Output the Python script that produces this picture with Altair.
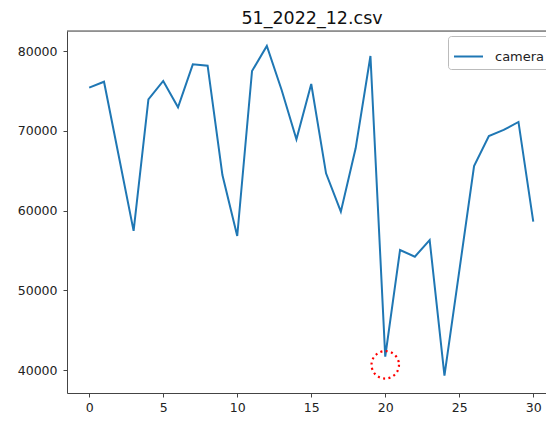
import altair as alt
import pandas as pd

# ---- data ----
days = list(range(31))
camera = [75400, 76150, 66800, 57450, 73940, 76240, 72940, 78330, 78160, 64450,
          56800, 77490, 80630, 75110, 68930, 75860, 64660, 59850, 67800, 79370,
          41670, 55050, 54210, 56300, 39290, 52400, 65580, 69340, 70100, 71100,
          58600]
series_name = ["camera"]
x_ticks = [0, 5, 10, 15, 20, 25, 30]
y_ticks = [40000, 50000, 60000, 70000, 80000]
mark_x = [20]
mark_y = [40650]
title_text = ["51_2022_12.csv"]

df = pd.DataFrame({"day": days, "value": camera, "series": series_name * len(days)})
ann = pd.DataFrame({"day": mark_x, "value": mark_y})
tdf = pd.DataFrame({"t": title_text})

W, H = 479, 362
FONT = "DejaVu Sans"

xscale = alt.Scale(domain=[-1.5, 30.86], nice=False, zero=False)
yscale = alt.Scale(domain=[37116, 82508], nice=False, zero=False)

xaxis = alt.Axis(values=x_ticks, title=None, grid=False, tickSize=4, labelPadding=4,
                 labelFontSize=12.5, labelFont=FONT, labelColor="#222",
                 domainColor="#444", tickColor="#444", labelFlush=False)
yaxis = alt.Axis(values=y_ticks, title=None, grid=False, tickSize=4, labelPadding=6,
                 labelFontSize=12.5, labelFont=FONT, labelColor="#222", format="d",
                 domainColor="#444", tickColor="#444")

shadow = alt.Chart(pd.DataFrame({"k": [0]})).mark_rect(color="#888", opacity=0.45).encode(
    x=alt.value(384), x2=alt.value(483), y=alt.value(7), y2=alt.value(31)
)

line = alt.Chart(df).mark_line(strokeWidth=2).encode(
    x=alt.X("day:Q", scale=xscale, axis=xaxis),
    y=alt.Y("value:Q", scale=yscale, axis=yaxis),
    color=alt.Color("series:N", scale=alt.Scale(range=["#1f77b4"]),
                    legend=alt.Legend(title=None, orient="none", legendX=381, legendY=5,
                                      symbolType="stroke", symbolSize=841,
                                      symbolStrokeWidth=2, labelFont=FONT,
                                      labelFontSize=13, labelColor="#222",
                                      labelOffset=11, padding=5,
                                      strokeColor="#bbb", fillColor="white",
                                      cornerRadius=3)),
)

circle = alt.Chart(ann).mark_point(shape="circle", filled=False, size=755,
                                   color="red", strokeWidth=2.2,
                                   strokeDash=[2, 3.4], opacity=1).encode(
    x=alt.X("day:Q", scale=xscale),
    y=alt.Y("value:Q", scale=yscale),
)

top_spine = alt.Chart(pd.DataFrame({"k": [0]})).mark_rule(color="#444", strokeWidth=1).encode(
    x=alt.value(0), x2=alt.value(W), y=alt.value(0)
)

title = alt.Chart(tdf).mark_text(font=FONT, fontSize=17.5, color="#111", align="center",
                                 baseline="alphabetic").encode(
    text="t:N", x=alt.value(245), y=alt.value(-7)
)

chart = alt.layer(shadow, line, circle, top_spine, title).properties(
    width=W, height=H,
    autosize=alt.AutoSizeParams(type="none"),
    padding={"left": 59, "top": 23, "right": 0, "bottom": 20},
).configure_view(stroke=None).configure(background="white")

chart.save("out.html", embed_options={"renderer": "svg", "actions": False})
